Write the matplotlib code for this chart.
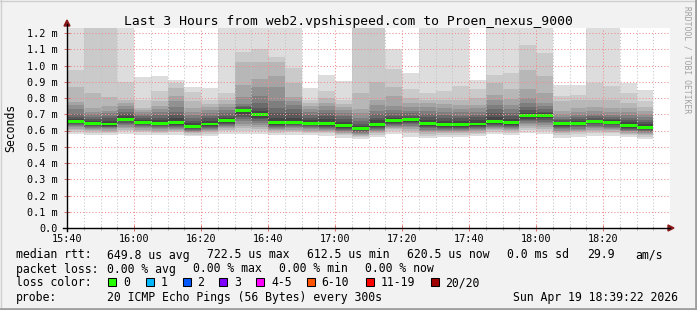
import numpy as np
import matplotlib.pyplot as plt
from matplotlib.patches import Rectangle, Polygon
from matplotlib.lines import Line2D

plt.rcParams['font.family'] = 'DejaVu Sans Mono'

# bins: minutes after 15:40, one bin every 5 minutes
bin_start = list(range(0, 175, 5))
tick_pos = [0, 20, 40, 60, 80, 100, 120, 140, 160]
tick_labels = ['15:40', '16:00', '16:20', '16:40', '17:00', '17:20', '17:40', '18:00', '18:20']

# 20 sorted pings per bin, microseconds (1300 = above the top of the graph)
pings = [
    [578, 592, 603, 612, 620, 626, 632, 638, 645, 653, 663, 672, 685, 700, 735, 760, 776, 866, 970, 1300],
    [572, 585, 594, 602, 610, 616, 622, 628, 634, 640, 650, 660, 672, 685, 700, 715, 738, 833, 1300, 1300],
    [570, 583, 592, 600, 608, 614, 619, 624, 629, 635, 648, 660, 675, 690, 705, 722, 750, 808, 1300, 1300],
    [580, 595, 606, 615, 624, 632, 640, 648, 656, 664, 676, 688, 700, 715, 735, 752, 770, 790, 900, 1300],
    [572, 588, 598, 606, 614, 620, 626, 632, 638, 645, 655, 665, 676, 688, 700, 715, 728, 740, 790, 927],
    [570, 583, 592, 600, 608, 614, 620, 626, 632, 638, 652, 665, 680, 695, 712, 730, 750, 780, 840, 935],
    [575, 588, 597, 605, 612, 618, 624, 630, 636, 642, 658, 675, 695, 715, 745, 780, 810, 860, 890, 910],
    [565, 575, 582, 588, 593, 598, 603, 608, 613, 618, 633, 645, 660, 675, 695, 715, 740, 780, 840, 868],
    [568, 580, 589, 596, 602, 608, 614, 620, 626, 632, 648, 660, 675, 690, 708, 725, 742, 765, 790, 860],
    [580, 595, 605, 614, 622, 628, 634, 640, 646, 654, 666, 677, 690, 705, 725, 745, 765, 790, 830, 1300],
    [578, 598, 614, 628, 642, 656, 670, 685, 700, 717, 728, 735, 742, 752, 766, 806, 880, 1020, 1083, 1300],
    [578, 596, 610, 622, 634, 645, 656, 668, 680, 694, 706, 720, 740, 770, 815, 866, 920, 1020, 1100, 1300],
    [570, 585, 595, 603, 610, 616, 622, 628, 634, 641, 655, 675, 705, 740, 780, 866, 935, 1023, 1054, 1300],
    [574, 588, 598, 606, 613, 619, 625, 631, 637, 644, 660, 680, 705, 730, 755, 780, 808, 894, 983, 1300],
    [570, 583, 592, 600, 607, 613, 619, 625, 631, 638, 650, 662, 678, 695, 712, 730, 750, 770, 790, 860],
    [568, 582, 591, 599, 606, 612, 618, 624, 630, 636, 652, 672, 690, 708, 728, 750, 772, 800, 845, 940],
    [556, 570, 579, 586, 592, 598, 604, 610, 616, 622, 638, 655, 672, 688, 705, 725, 745, 765, 790, 905],
    [548, 560, 568, 575, 581, 586, 591, 596, 601, 607, 618, 630, 643, 660, 680, 705, 735, 830, 1300, 1300],
    [562, 575, 584, 592, 599, 605, 611, 617, 623, 629, 645, 662, 680, 700, 722, 755, 790, 900, 1300, 1300],
    [580, 596, 607, 616, 624, 630, 636, 642, 648, 656, 668, 678, 690, 705, 725, 750, 810, 870, 978, 1100],
    [560, 585, 600, 612, 622, 630, 638, 645, 652, 660, 670, 680, 692, 705, 722, 745, 770, 800, 855, 956],
    [553, 568, 580, 590, 598, 606, 614, 622, 630, 638, 652, 665, 682, 700, 720, 745, 770, 790, 830, 1300],
    [560, 573, 582, 590, 597, 603, 609, 615, 621, 628, 642, 659, 676, 695, 715, 740, 765, 790, 840, 1300],
    [561, 574, 583, 591, 598, 604, 610, 616, 622, 628, 642, 658, 675, 692, 712, 735, 760, 790, 874, 1300],
    [565, 578, 587, 595, 602, 608, 614, 620, 626, 632, 648, 663, 680, 698, 716, 738, 760, 800, 855, 910],
    [578, 593, 603, 611, 618, 624, 630, 636, 642, 649, 665, 685, 705, 730, 760, 790, 820, 890, 940, 1300],
    [573, 587, 597, 605, 612, 618, 624, 630, 636, 642, 658, 672, 690, 710, 735, 760, 796, 857, 955, 1300],
    [584, 604, 618, 630, 640, 648, 656, 664, 672, 682, 698, 710, 725, 745, 770, 800, 855, 970, 1128, 1300],
    [578, 598, 612, 624, 634, 644, 654, 664, 674, 684, 696, 705, 716, 730, 748, 770, 830, 935, 1075, 1300],
    [553, 570, 582, 592, 600, 607, 614, 621, 628, 635, 645, 652, 662, 672, 685, 700, 720, 780, 813, 882],
    [562, 577, 588, 597, 605, 612, 619, 626, 633, 640, 650, 660, 670, 683, 698, 715, 740, 785, 820, 880],
    [566, 582, 594, 604, 613, 621, 629, 637, 645, 653, 661, 667, 676, 688, 702, 720, 745, 787, 890, 1300],
    [567, 582, 593, 602, 610, 617, 624, 631, 638, 645, 655, 662, 672, 684, 698, 715, 740, 787, 874, 1300],
    [558, 571, 580, 587, 594, 600, 606, 612, 618, 624, 636, 650, 664, 680, 697, 715, 740, 770, 830, 890],
    [550, 563, 572, 579, 585, 591, 597, 603, 609, 615, 626, 638, 652, 666, 682, 700, 720, 745, 780, 850],
]
median = [658, 645, 640, 670, 650, 645, 650, 625, 640, 660, 722.5, 700, 648, 652, 644,
          644, 630, 612.5, 637, 663, 665, 645, 635, 635, 640, 657, 650, 690, 690, 642,
          645, 657, 650, 630, 620.5]

W, H = 697, 310
def fx(x):
    return x / W
def fy(y):
    return 1 - y / H

fig = plt.figure(figsize=(W / 100, H / 100), dpi=100, facecolor='#f2f2f2')
ax = fig.add_axes([fx(67), fy(228), 603 / W, 200 / H])
ax.set_facecolor('white')

ms = np.array(pings) / 1000.0
med = np.array(median) / 1000.0

# smoke: pairs of pings from outermost to innermost
for j in range(10):
    g = int(190 / 10 * (9 - j)) + 50
    col = '#%02x%02x%02x' % (g, g, g)
    lo = ms[:, j]
    hi = ms[:, 19 - j]
    ax.bar(bin_start, hi - lo, bottom=lo, width=5, align='edge', color=col, linewidth=0, zorder=1)

# median rtt, loss 0 -> green
ax.bar(bin_start, 0.018, bottom=med - 0.009, width=5, align='edge', color='#26ff00', linewidth=0, zorder=2)

ax.set_xlim(0, 180)
ax.set_ylim(0, 200 / 162.5)
ax.set_xticks(tick_pos)
ax.set_xticklabels(tick_labels)
ax.set_xticks(range(0, 180, 5), minor=True)
yt = np.round(np.arange(0, 1.21, 0.1), 1)
ax.set_yticks(yt)
ax.set_yticklabels(['0.0'] + ['%.1f m' % v for v in yt[1:]])

ax.set_axisbelow(False)
ax.grid(which='major', axis='both', color='#f08c8c', linestyle=(0, (1, 2)), linewidth=0.75)
ax.grid(which='minor', axis='x', color='#c4c4c4', linestyle=(0, (1, 2)), linewidth=0.75)
ax.tick_params(axis='both', which='major', labelsize=7.3, direction='inout', length=4,
               color='#e07070', width=0.75)
ax.tick_params(axis='x', which='major', pad=2)
ax.tick_params(axis='y', which='major', pad=5)
ax.tick_params(axis='x', which='minor', direction='inout', length=3, color='#b0b0b0', width=0.75)
for s in ax.spines.values():
    s.set_visible(False)

# axis lines and arrows
fig.add_artist(Line2D([fx(63), fx(670)], [fy(228), fy(228)], color='black', lw=1.0))
fig.add_artist(Line2D([fx(67), fx(67)], [fy(231), fy(24)], color='black', lw=1.0))
fig.add_artist(Polygon([(fx(668), fy(225)), (fx(668), fy(231)), (fx(674), fy(228))],
                       closed=True, color='#8b1a1a', transform=fig.transFigure))
fig.add_artist(Polygon([(fx(64), fy(26)), (fx(70), fy(26)), (fx(67), fy(20))],
                       closed=True, color='#8b1a1a', transform=fig.transFigure))

# frame shading
fig.add_artist(Line2D([0, 1], [fy(0.5), fy(0.5)], color='#cfcfcf', lw=1.0))
fig.add_artist(Line2D([fx(0.5), fx(0.5)], [0, 1], color='#cfcfcf', lw=1.0))
fig.add_artist(Line2D([0, 1], [fy(309), fy(309)], color='#9e9e9e', lw=2.0))
fig.add_artist(Line2D([fx(696), fx(696)], [0, 1], color='#9e9e9e', lw=2.0))

fig.text(fx(348), fy(25), 'Last 3 Hours from web2.vpshispeed.com to Proen_nexus_9000',
         ha='center', va='baseline', fontsize=9.4)
fig.text(fx(11), fy(128), 'Seconds', rotation=90, ha='center', va='center', fontsize=8.3)
fig.text(fx(687), fy(60), 'RRDTOOL / TOBI OETIKER', rotation=270, ha='center', va='center',
         fontsize=5.8, color='#a0a0a0')

fs = 8.3
rows = [258.5, 272.5, 286.5, 300.5]
line1 = [(16, 'median rtt:'), (107, '649.8 us avg'), (207, '722.5 us max'), (307, '612.5 us min'),
         (407, '620.5 us now'), (507, '0.0 ms sd'), (587, '29.9'), (635, 'am/s')]
line2 = [(16, 'packet loss:'), (107, '0.00 % avg'), (193, '0.00 % max'), (279, '0.00 % min'),
         (365, '0.00 % now')]
for x, t in line1:
    fig.text(fx(x), fy(rows[0]), t, va='baseline', fontsize=fs)
for x, t in line2:
    fig.text(fx(x), fy(rows[1]), t, va='baseline', fontsize=fs)

fig.text(fx(16), fy(rows[2]), 'loss color:', va='baseline', fontsize=fs)
loss_labels = ['0', '1', '2', '3', '4-5', '6-10', '11-19', '20/20']
loss_colors = ['#26ff00', '#00b8ff', '#0059ff', '#7e00ff', '#ff00ff', '#ff5500', '#ff0000', '#a10000']
box_x = [108, 145.5, 182.5, 219, 256, 306.5, 365.5, 430.5]
for bx, lab, c in zip(box_x, loss_labels, loss_colors):
    fig.add_artist(Rectangle((fx(bx), fy(286)), 8 / W, 8 / H, facecolor=c, edgecolor='black',
                             linewidth=0.75, transform=fig.transFigure))
    fig.text(fx(bx + 15), fy(rows[2]), lab, va='baseline', fontsize=fs)

fig.text(fx(16), fy(rows[3]), 'probe:', va='baseline', fontsize=fs)
fig.text(fx(107), fy(rows[3]), '20 ICMP Echo Pings (56 Bytes) every 300s', va='baseline', fontsize=fs)
fig.text(fx(513), fy(rows[3]), 'Sun Apr 19 18:39:22 2026', va='baseline', fontsize=fs)

fig.savefig('out.png', dpi=100, facecolor=fig.get_facecolor())
